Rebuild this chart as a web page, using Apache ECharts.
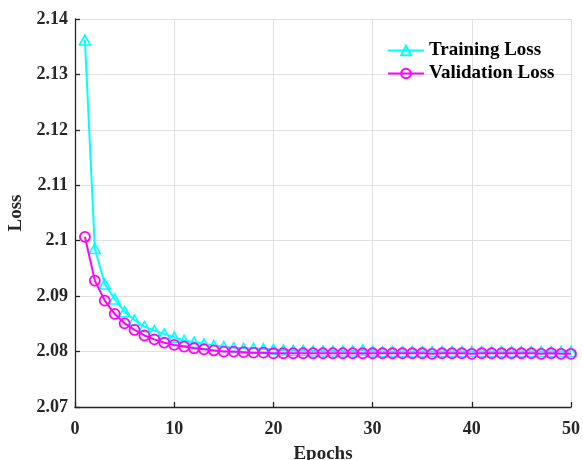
<!DOCTYPE html>
<html>
<head>
<meta charset="utf-8">
<script src="https://cdn.jsdelivr.net/npm/echarts@6/dist/echarts.min.js"></script>
<style>
  html, body { margin: 0; padding: 0; background: #fff; overflow: hidden; }
  #chart { width: 583px; height: 460px; }
</style>
</head>
<body>
<div id="chart"></div>
<script>
// Loss per epoch for training and validation runs
const epochs = Array.from({ length: 50 }, (_, i) => i + 1);

const trainingLoss = [
  2.1362, 2.0986, 2.0922, 2.0895, 2.0872, 2.0857, 2.0845, 2.0838, 2.0832, 2.0826,
  2.0820, 2.0817, 2.0814, 2.0811, 2.0809, 2.0807, 2.0806, 2.0806, 2.0805, 2.0804,
  2.0803, 2.0802, 2.0802, 2.0801, 2.0801, 2.0801, 2.0801, 2.0801, 2.0803, 2.0801,
  2.0800, 2.0800, 2.0800, 2.0800, 2.0800, 2.0800, 2.0800, 2.0800, 2.0800, 2.0800,
  2.0800, 2.0800, 2.0800, 2.0800, 2.0800, 2.0800, 2.0800, 2.0800, 2.0800, 2.0800
];

const validationLoss = [
  2.1007, 2.0928, 2.0892, 2.0868, 2.0851, 2.0839, 2.0829, 2.0822, 2.0816, 2.0812,
  2.0809, 2.0806, 2.0804, 2.0802, 2.0800, 2.0800, 2.0799, 2.0798, 2.0798, 2.0797,
  2.0797, 2.0797, 2.0797, 2.0797, 2.0797, 2.0797, 2.0797, 2.0797, 2.0797, 2.0797,
  2.0797, 2.0797, 2.0797, 2.0797, 2.0797, 2.0796, 2.0797, 2.0797, 2.0797, 2.0796,
  2.0797, 2.0797, 2.0797, 2.0797, 2.0797, 2.0797, 2.0796, 2.0797, 2.0796, 2.0796
];

const xTicks = [0, 10, 20, 30, 40, 50];
const yTicks = [2.07, 2.08, 2.09, 2.10, 2.11, 2.12, 2.13, 2.14];

const FONT = '"Liberation Serif", "Times New Roman", serif';
const AXIS = '#262626';
const CYAN = '#00ffff';
const MAGENTA = '#ff00ff';

const chart = echarts.init(document.getElementById('chart'), null, { renderer: 'canvas' });

chart.setOption({
  backgroundColor: '#ffffff',
  animation: false,
  grid: { left: 75, right: 12, top: 19, bottom: 53, containLabel: false, outerBoundsMode: 'none' },
  legend: {
    top: 36,
    left: 382,
    orient: 'vertical',
    itemWidth: 36,
    itemHeight: 12,
    itemGap: 4,
    textStyle: { fontFamily: FONT, fontWeight: 'bold', fontSize: 19, color: '#000' },
    data: ['Training Loss', 'Validation Loss']
  },
  xAxis: {
    type: 'value',
    min: xTicks[0],
    max: xTicks[xTicks.length - 1],
    interval: 10,
    name: 'Epochs',
    nameLocation: 'middle',
    nameGap: 38,
    nameTextStyle: { fontFamily: FONT, fontWeight: 'bold', fontSize: 19, color: '#262626' },
    axisLine: { show: true, onZero: false, lineStyle: { color: AXIS, width: 1.3 } },
    axisTick: { show: true, inside: true, length: 5, lineStyle: { color: AXIS, width: 1.3 } },
    axisLabel: { margin: 13, fontFamily: FONT, fontWeight: 'bold', fontSize: 18, color: '#262626' },
    splitLine: { show: true, lineStyle: { color: '#e0e0e0', width: 1 } }
  },
  yAxis: {
    type: 'value',
    min: yTicks[0],
    max: yTicks[yTicks.length - 1],
    interval: 0.01,
    name: 'Loss',
    nameLocation: 'middle',
    nameRotate: 90,
    nameGap: 44,
    nameTextStyle: { fontFamily: FONT, fontWeight: 'bold', fontSize: 19, color: '#262626' },
    axisLine: { show: true, lineStyle: { color: AXIS, width: 1.3 } },
    axisTick: { show: true, inside: true, length: 5, lineStyle: { color: AXIS, width: 1.3 } },
    axisLabel: {
      margin: 7,
      fontFamily: FONT, fontWeight: 'bold', fontSize: 18, color: '#262626',
      formatter: v => String(+v.toFixed(2))
    },
    splitLine: { show: true, lineStyle: { color: '#e0e0e0', width: 1 } }
  },
  series: [
    {
      name: 'Training Loss',
      type: 'line',
      data: epochs.map((e, i) => [e, trainingLoss[i]]),
      symbol: 'triangle',
      symbolSize: [11, 10],
      showAllSymbol: true,
      lineStyle: { color: CYAN, width: 2 },
      itemStyle: { color: 'rgba(255,255,255,0)', borderColor: CYAN, borderWidth: 1.6 },
      z: 2
    },
    {
      name: 'Validation Loss',
      type: 'line',
      data: epochs.map((e, i) => [e, validationLoss[i]]),
      symbol: 'circle',
      symbolSize: 10,
      showAllSymbol: true,
      lineStyle: { color: MAGENTA, width: 2 },
      itemStyle: { color: 'rgba(255,255,255,0)', borderColor: MAGENTA, borderWidth: 1.8 },
      z: 3
    }
  ]
});
</script>
</body>
</html>
